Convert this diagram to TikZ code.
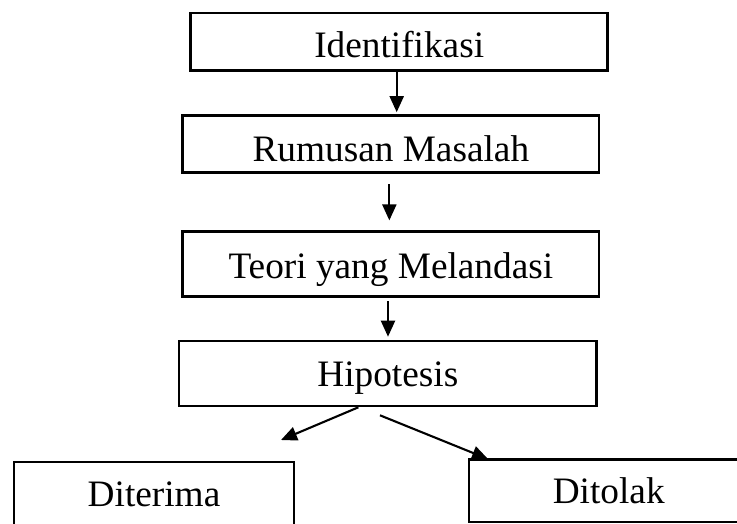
\documentclass[tikz,border=0pt]{standalone}
\usepackage{fontspec}
\setmainfont{Liberation Serif}
\usetikzlibrary{arrows.meta,calc}
\begin{document}
\begin{tikzpicture}[x=1pt,y=-1pt,
  box/.style={draw,line width=2.6pt,inner sep=0pt,
    font=\fontsize{37.3pt}{44pt}\selectfont,
    text height=25.7pt,text depth=0pt},
  arr/.style={line width=2.1pt,-{Triangle[length=16pt,width=14pt]}}]
\useasboundingbox (0,0) rectangle (737,523);
\node[box,minimum width=417pt,minimum height=57.7pt,text height=32pt] (b1) at (399.2,41.85) {Identifikasi};
\node[box,minimum width=416.3pt,minimum height=57.2pt,text height=34pt] (b2) at (390.85,144.1) {Rumusan Masalah};
\node[box,minimum width=416.3pt,minimum height=65pt,text height=28pt] (b3) at (390.85,264.2) {Teori yang Melandasi};
\node[box,minimum width=417.7pt,minimum height=65pt] (b4) at (387.85,373.5) {Hipotesis};
\node[box,minimum width=280pt,minimum height=64pt] (dt) at (154,494) {Diterima};
\node[box,minimum width=279.4pt,minimum height=62.7pt] (dk) at (608.7,490.6) {Ditolak};
\coordinate (t4) at (281,440);
\coordinate (t5) at (488,459);
\draw[arr,shorten >=2pt] ([xshift=-2.5pt]b1.south) -- ([xshift=-2.5pt]b1.south |- b2.north);
\draw[arr,shorten <=10pt,shorten >=10pt] ([xshift=-1.5pt]b2.south) -- ([xshift=-1.5pt]b2.south |- b3.north);
\draw[arr,shorten <=3.3pt,shorten >=3pt] ([xshift=-2.85pt]b3.south) -- ([xshift=-2.85pt]b3.south |- b4.north);
\draw[arr] ([xshift=-29.5pt]b4.south) -- (t4);
\draw[arr] ([xshift=-7.85pt,yshift=-8pt]b4.south) -- (t5);
\end{tikzpicture}
\end{document}
